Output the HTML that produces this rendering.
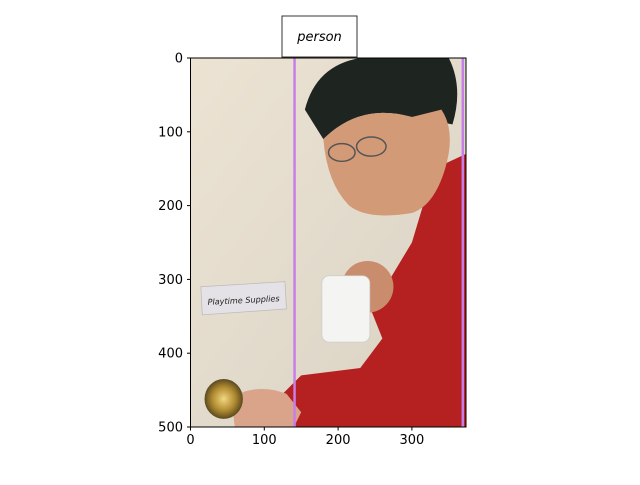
<!DOCTYPE html>
<html><head><meta charset="utf-8"><style>
body{margin:0;background:#fff;width:640px;height:480px;overflow:hidden;font-family:"Liberation Sans","DejaVu Sans",sans-serif}
</style></head><body>
<svg width="640" height="480" viewBox="0 0 640 480" style="font-family:'DejaVu Sans','Liberation Sans',sans-serif">
<defs>
<linearGradient id="door" x1="0" x2="1" y1="0" y2="1">
<stop offset="0" stop-color="#ece3d3"/><stop offset="1" stop-color="#d9d2c4"/></linearGradient>
<radialGradient id="gold"><stop offset="0" stop-color="#f0d880"/><stop offset="0.6" stop-color="#b08a30"/><stop offset="1" stop-color="#5a4a20"/></radialGradient>
</defs>
<g id="img"></g>
<g id="lines"></g>
<rect x="190.5" y="58" width="275.5" height="369" fill="none" stroke="#000" stroke-width="1"/>
<g id="ticks"></g>
<rect x="282" y="16" width="75" height="41" fill="#fff" stroke="#333"/>
<text x="319.5" y="41" text-anchor="middle" font-size="13" font-style="italic">person</text>
</svg>
<script>
const xTicks=[0,100,200,300];
const yTicks=[0,100,200,300,400,500];
const boxXs=[141,369];
const imgW=373, imgH=500;
const X0=190.5,Y0=58,S=369/500;
const px=v=>X0+v*S, py=v=>Y0+v*S;
const NS="http://www.w3.org/2000/svg";
function mk(p,tag,a){const e=document.createElementNS(NS,tag);for(const k in a)e.setAttribute(k,a[k]);p.appendChild(e);return e;}
const img=document.getElementById('img');
const g=mk(img,'g',{transform:`translate(${X0},${Y0}) scale(${S})`});
mk(g,'rect',{x:0,y:0,width:imgW,height:imgH,fill:'url(#door)'});
// red sweater
mk(g,'path',{d:'M330 150 L373 130 L373 500 L120 500 L110 470 L150 430 L230 420 L260 380 L240 330 L270 300 L300 250 L315 200 Z',fill:'#b52020'});
// hair
mk(g,'path',{d:'M155 70 Q170 10 230 0 L350 0 Q370 40 355 90 L300 80 Q230 60 180 110 Z',fill:'#1e2420'});
// face
mk(g,'path',{d:'M180 110 Q230 60 300 80 L340 70 Q360 100 345 150 Q330 200 300 210 Q240 220 215 200 Q185 170 180 110 Z',fill:'#d39a78'});
// glasses
mk(g,'ellipse',{cx:205,cy:128,rx:18,ry:12,fill:'none',stroke:'#555','stroke-width':2});
mk(g,'ellipse',{cx:245,cy:120,rx:20,ry:13,fill:'none',stroke:'#555','stroke-width':2});
// hand at mug
mk(g,'ellipse',{cx:240,cy:310,rx:35,ry:35,fill:'#c98c6c'});
// mug
mk(g,'rect',{x:178,y:295,width:65,height:90,rx:10,fill:'#f4f4f2',stroke:'#ccc'});
// sign
mk(g,'path',{d:'M14 310 L128 303 L130 340 L16 348 Z',fill:'#e4e2e6',stroke:'#bbb'});
const st=mk(g,'text',{x:72,y:332,'text-anchor':'middle','font-size':11,'font-style':'italic',fill:'#222',transform:'rotate(-3 72 330)'});
st.textContent='Playtime Supplies';
// hand on knob
mk(g,'path',{d:'M55 460 Q90 440 130 455 L150 480 L140 500 L60 500 Z',fill:'#d9a48a'});
// doorknob
mk(g,'ellipse',{cx:45,cy:462,rx:26,ry:27,fill:'url(#gold)'});
const L=document.getElementById('lines');
boxXs.forEach(v=>{const l=mk(L,'line',{x1:px(v),x2:px(v),y1:py(0),y2:py(imgH),stroke:'#c77ee8','stroke-width':2.5});

});
const T=document.getElementById('ticks');
xTicks.forEach(v=>{const x=px(v);mk(T,'line',{x1:x,x2:x,y1:427,y2:430.5,stroke:'#000'});
const t=mk(T,'text',{x:x,y:444,'text-anchor':'middle','font-size':13});t.textContent=v;

});
yTicks.forEach(v=>{const y=py(v);mk(T,'line',{x1:187,x2:190.5,y1:y,y2:y,stroke:'#000'});
const t=mk(T,'text',{x:183,y:y+4.5,'text-anchor':'end','font-size':13});t.textContent=v;

});
</script>
</body></html>
